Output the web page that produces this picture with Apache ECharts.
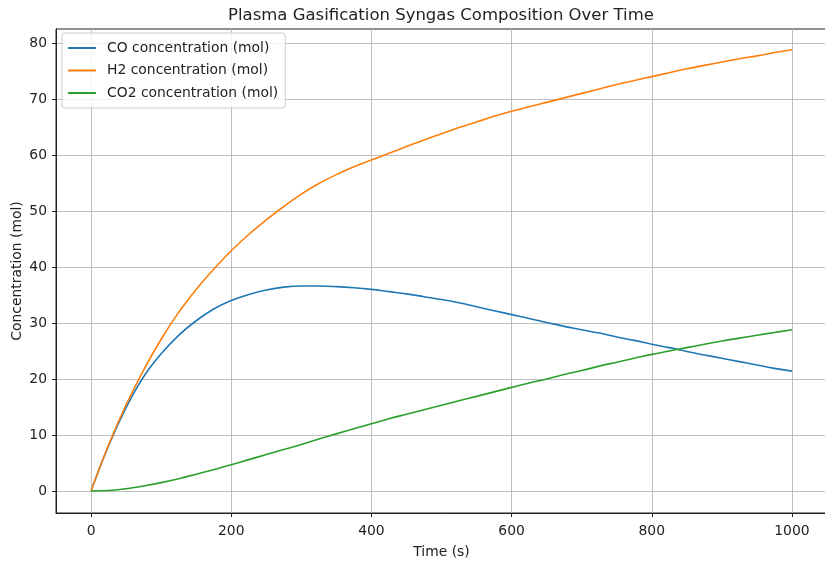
<!DOCTYPE html>
<html>
<head>
<meta charset="utf-8">
<script src="https://cdn.jsdelivr.net/npm/echarts@6/dist/echarts.min.js"></script>
<style>
html,body{margin:0;padding:0;background:#fff;}
#chart{width:825px;height:562px;}
</style>
</head>
<body>
<div id="chart"></div>
<script>
const timeS = [0, 25, 50, 75, 100, 125, 150, 175, 200, 225, 250, 275, 300, 325, 350, 375, 400, 425, 450, 475, 500,
  525, 550, 575, 600, 625, 650, 675, 700, 725, 750, 775, 800, 825, 850, 875, 900, 925, 950, 975, 1000];
const coMol = [0, 8.1, 14.9, 20.4, 24.5, 27.8, 30.4, 32.5, 34.0, 35.1, 35.9, 36.4, 36.6, 36.6, 36.5, 36.3, 36.0, 35.6, 35.2, 34.7, 34.2,
  33.6, 32.9, 32.2, 31.5, 30.8, 30.1, 29.4, 28.8, 28.2, 27.5, 26.9, 26.2, 25.6, 24.9, 24.3, 23.7, 23.1, 22.5, 21.9, 21.4];
const h2Mol = [0, 8.2, 15.4, 21.6, 27.1, 31.9, 36.0, 39.6, 42.9, 45.8, 48.4, 50.8, 53.0, 54.9, 56.5, 57.9, 59.1, 60.3, 61.5, 62.7, 63.8,
  64.9, 65.9, 66.9, 67.8, 68.6, 69.4, 70.2, 71.0, 71.8, 72.6, 73.3, 74.0, 74.7, 75.4, 76.0, 76.6, 77.2, 77.7, 78.3, 78.8];
const co2Mol = [0, 0.1, 0.4, 0.9, 1.5, 2.2, 3.0, 3.8, 4.7, 5.6, 6.5, 7.4, 8.3, 9.3, 10.2, 11.1, 12.0, 12.9, 13.7, 14.5, 15.3,
  16.1, 16.9, 17.7, 18.5, 19.3, 20.0, 20.8, 21.5, 22.3, 23.0, 23.7, 24.4, 25.0, 25.6, 26.2, 26.8, 27.3, 27.8, 28.3, 28.8];
const xTicks = [0, 200, 400, 600, 800, 1000];
const yTicks = [0, 10, 20, 30, 40, 50, 60, 70, 80];
const seriesNames = ['CO concentration (mol)', 'H2 concentration (mol)', 'CO2 concentration (mol)'];
const seriesColors = ['#1f77b4', '#ff7f0e', '#2ca02c'];

const zip = (xs, ys) => xs.map((x, i) => [x, ys[i]]);
const font = 'DejaVu Sans';
const fs = 13.9;

const chart = echarts.init(document.getElementById('chart'), null, {renderer: 'canvas'});
chart.setOption({
  animation: false,
  backgroundColor: '#fff',
  title: {
    text: 'Plasma Gasification Syngas Composition Over Time',
    left: 223, top: 2,
    textStyle: {fontFamily: font, fontSize: 16.5, fontWeight: 'normal', color: '#222'}
  },
  grid: {
    left: 56, right: -2, top: 29, bottom: 49,
    outerBoundsMode: 'none', containLabel: false,
    show: true, borderColor: '#222', borderWidth: 1, backgroundColor: 'transparent'
  },
  legend: {
    orient: 'vertical', left: 62, top: 33,
    padding: [6, 7, 6, 6],
    itemGap: 4.5, itemWidth: 28, itemHeight: 2, icon: 'rect',
    backgroundColor: 'rgba(255,255,255,0.8)',
    borderColor: '#cccccc', borderWidth: 1, borderRadius: 3,
    textStyle: {fontFamily: font, fontSize: fs, color: '#222', lineHeight: 18, padding: [0, 0, 0, 6]},
    data: seriesNames
  },
  xAxis: {
    type: 'value', min: -50, max: 1050,
    name: 'Time (s)', nameLocation: 'middle', nameGap: 32, nameMoveOverlap: false,
    nameTextStyle: {fontFamily: font, fontSize: fs, color: '#222'},
    axisLine: {show: true, onZero: false, lineStyle: {color: '#222', width: 1}},
    axisTick: {show: true, length: 4, customValues: xTicks, lineStyle: {color: '#222'}},
    axisLabel: {customValues: xTicks, margin: 11, fontFamily: font, fontSize: fs, color: '#222',
      formatter: v => String(v)},
    splitLine: {show: true, lineStyle: {color: '#b0b0b0', width: 0.8}}
  },
  yAxis: {
    type: 'value', min: -3.93, max: 82.5,
    name: 'Concentration (mol)', nameLocation: 'middle', nameGap: 32, nameMoveOverlap: false,
    nameTextStyle: {fontFamily: font, fontSize: fs, color: '#222'},
    axisLine: {show: true, onZero: false, lineStyle: {color: '#222', width: 1}},
    axisTick: {show: true, length: 4, customValues: yTicks, lineStyle: {color: '#222'}},
    axisLabel: {customValues: yTicks, margin: 9, fontFamily: font, fontSize: fs, color: '#222',
      formatter: v => String(v)},
    splitLine: {show: true, lineStyle: {color: '#b0b0b0', width: 0.8}}
  },
  series: [
    {name: seriesNames[0], type: 'line', data: zip(timeS, coMol)},
    {name: seriesNames[1], type: 'line', data: zip(timeS, h2Mol)},
    {name: seriesNames[2], type: 'line', data: zip(timeS, co2Mol)}
  ].map((s, i) => Object.assign(s, {
    symbol: 'none', smooth: 0.4, color: seriesColors[i],
    lineStyle: {color: seriesColors[i], width: 1.6}
  }))
});
</script>
</body>
</html>
